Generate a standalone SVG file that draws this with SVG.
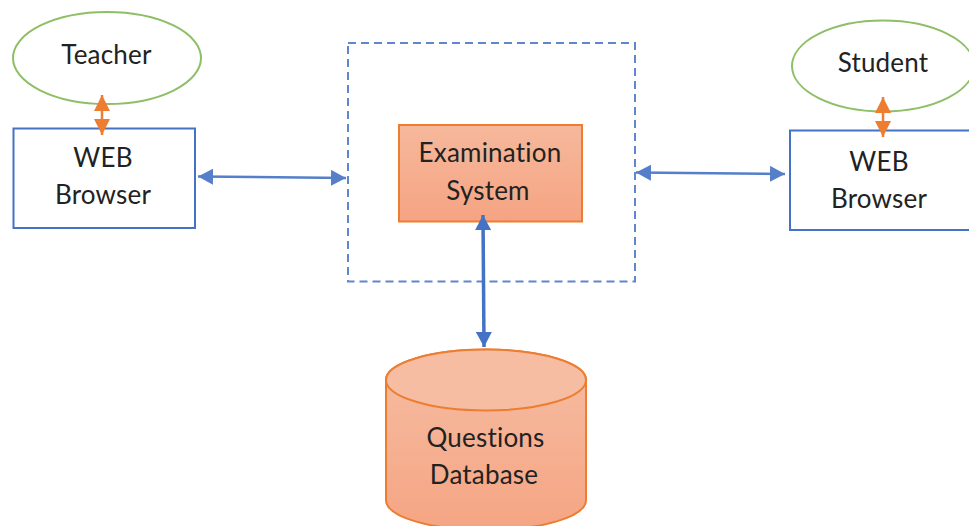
<svg xmlns="http://www.w3.org/2000/svg" width="969" height="526" viewBox="0 0 969 526">
<style>
text{font-family:Lato,"Liberation Sans",sans-serif;font-size:26px;letter-spacing:.2px;fill:#222;text-anchor:middle}
.b{fill:#fff;stroke:#4472c4;stroke-width:2}
.e{fill:#fff;stroke:#8dbf66;stroke-width:2}
.bl{fill:none;stroke:#4472c4;stroke-width:2.500;opacity:.9}
.or{fill:none;stroke:#ed7d31;stroke-width:2.500}
</style>
<defs>
<linearGradient id="g" x1="0" y1="0" x2="0" y2="1"><stop offset="0" stop-color="#f6b89c"/><stop offset="1" stop-color="#f5a482"/></linearGradient>
<linearGradient id="g2" x1="0" y1="0" x2="0" y2="1"><stop offset="0" stop-color="#f6bda3"/><stop offset="1" stop-color="#f5a583"/></linearGradient>
<marker id="ba" markerUnits="userSpaceOnUse" markerWidth="16" markerHeight="16" refX="15" refY="8" orient="auto-start-reverse"><path d="M0 0L15 8L0 16Z" fill="#4472c4"/></marker>
<marker id="oa" markerUnits="userSpaceOnUse" markerWidth="18" markerHeight="18" refX="16" refY="9" orient="auto-start-reverse"><path d="M0 1L16 9L0 17Z" fill="#ed7d31"/></marker>
</defs>
<rect width="969" height="526" fill="#fff"/>
<g id="container"><rect x="348" y="43" width="287" height="238.500" fill="none" stroke="#4472c4" stroke-width="2" stroke-dasharray="8 5" opacity=".85"/></g>
<g id="teacher"><ellipse class="e" cx="107" cy="58" rx="94" ry="46"/><text x="106.500" y="64">Teacher</text></g>
<g id="browser1"><rect class="b" x="13.500" y="128.500" width="181.500" height="99.500"/><text x="103" y="167">WEB</text><text x="103" y="204">Browser</text></g>
<g id="student"><ellipse class="e" cx="883" cy="66" rx="91" ry="45.500"/><text x="883" y="72">Student</text></g>
<g id="browser2"><rect class="b" x="790" y="130.500" width="185" height="99.500"/><text x="879" y="171">WEB</text><text x="879" y="208">Browser</text></g>
<g id="exam"><rect x="399" y="125" width="183" height="96.500" fill="url(#g)" stroke="#ed7d31" stroke-width="2"/><text x="490" y="162">Examination</text><text x="488" y="200">System</text></g>
<g id="database"><path d="M386 380V500C386 517 431 530 486 530S586 517 586 500V380C586 363 541 349.500 486 349.500S386 363 386 380Z" fill="url(#g2)" stroke="#ed7d31" stroke-width="2"/><ellipse cx="486" cy="380" rx="100" ry="30.500" fill="#f6bda3" stroke="#ed7d31" stroke-width="2"/><text x="485.500" y="447">Questions</text><text x="484" y="484">Database</text></g>
<g id="connectors">
<path class="bl" d="M198 176.500L346 178" marker-start="url(#ba)" marker-end="url(#ba)"/>
<path class="bl" d="M636 172.500L785 174" marker-start="url(#ba)" marker-end="url(#ba)"/>
<path fill="none" stroke="#4472c4" stroke-width="3.500" d="M483 215L484 347" marker-start="url(#ba)" marker-end="url(#ba)"/>
<path class="or" d="M102 95V135" marker-start="url(#oa)" marker-end="url(#oa)"/>
<path class="or" d="M883 97V137" marker-start="url(#oa)" marker-end="url(#oa)"/>
</g>
</svg>
